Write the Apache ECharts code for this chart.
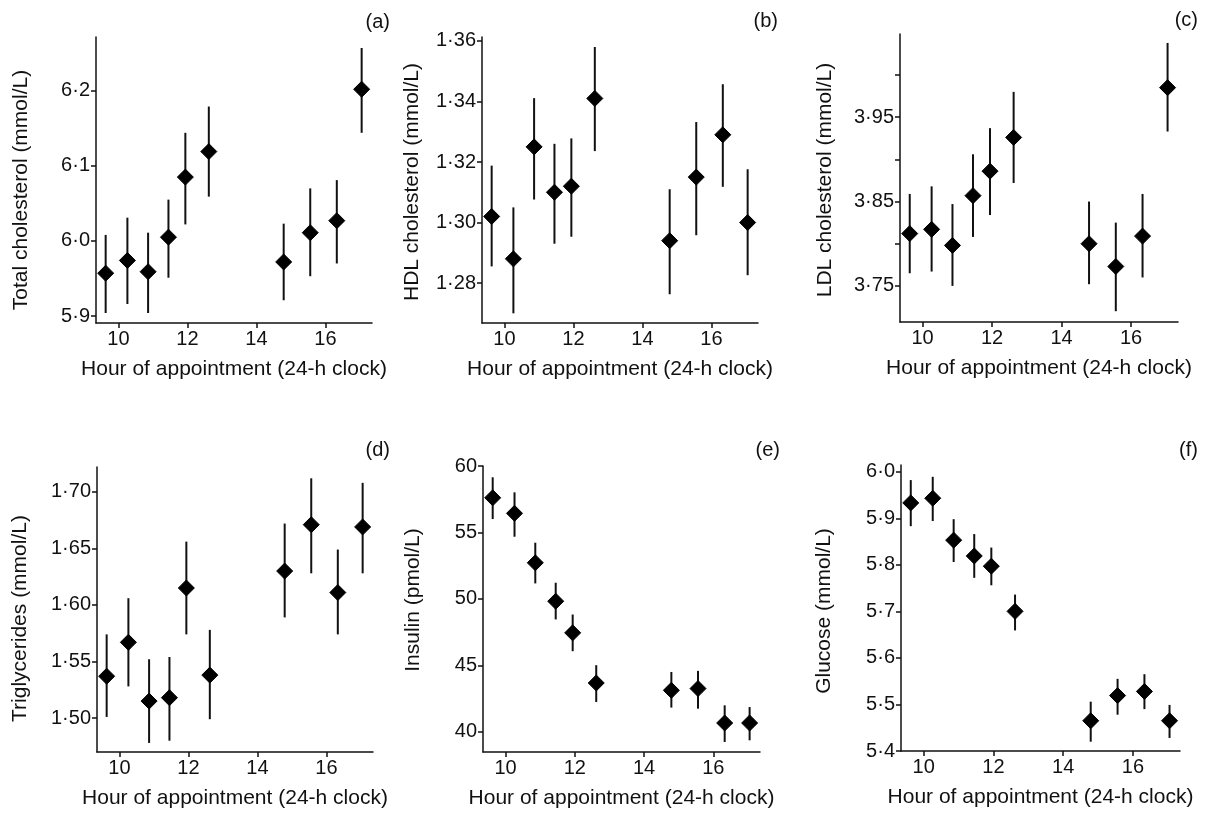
<!DOCTYPE html>
<html>
<head>
<meta charset="utf-8">
<script src="https://cdn.jsdelivr.net/npm/echarts@6/dist/echarts.min.js"></script>
<style>
  html, body { margin: 0; padding: 0; background: #fff; }
  #chart { width: 1209px; height: 818px; }
</style>
</head>
<body>
<div id="chart"></div>
<script>
// Hour of appointment (shared by all six panels)
const hours = [9.63, 10.26, 10.86, 11.45, 11.94, 12.62, 14.79, 15.56, 16.33, 17.05];
const hourTicks = [10, 12, 14, 16];

// (a) Total cholesterol, mmol/L
const totalMean = [5.957, 5.974, 5.959, 6.005, 6.085, 6.119, 5.972, 6.011, 6.027, 6.202];
const totalLow  = [5.904, 5.916, 5.904, 5.951, 6.022, 6.059, 5.921, 5.953, 5.970, 6.144];
const totalHigh = [6.008, 6.031, 6.011, 6.055, 6.144, 6.179, 6.023, 6.070, 6.081, 6.257];
const totalTicks = [5.9, 6.0, 6.1, 6.2];

// (b) HDL cholesterol, mmol/L
const hdlMean = [1.302, 1.288, 1.325, 1.310, 1.312, 1.341, 1.294, 1.315, 1.329, 1.300];
const hdlLow  = [1.2855, 1.270, 1.3076, 1.293, 1.2953, 1.3236, 1.2763, 1.2958, 1.3118, 1.2826];
const hdlHigh = [1.3188, 1.305, 1.3411, 1.326, 1.3278, 1.358, 1.311, 1.3332, 1.3457, 1.3176];
const hdlTicks = [1.28, 1.30, 1.32, 1.34, 1.36];

// (c) LDL cholesterol, mmol/L
const ldlMean = [3.812, 3.817, 3.798, 3.857, 3.886, 3.926, 3.800, 3.773, 3.809, 3.985];
const ldlLow  = [3.765, 3.767, 3.750, 3.808, 3.834, 3.872, 3.752, 3.720, 3.760, 3.933];
const ldlHigh = [3.859, 3.868, 3.847, 3.906, 3.937, 3.980, 3.850, 3.825, 3.859, 4.038];
const ldlTicks = [3.75, 3.80, 3.85, 3.90, 3.95, 4.00];
const ldlLabels = [3.75, 3.85, 3.95];

// (d) Triglycerides, mmol/L
const tgMean = [1.537, 1.567, 1.515, 1.518, 1.615, 1.538, 1.630, 1.671, 1.611, 1.669];
const tgLow  = [1.501, 1.528, 1.478, 1.480, 1.574, 1.499, 1.589, 1.628, 1.574, 1.628];
const tgHigh = [1.574, 1.606, 1.552, 1.554, 1.656, 1.578, 1.672, 1.712, 1.649, 1.708];
const tgTicks = [1.50, 1.55, 1.60, 1.65, 1.70];

// (e) Insulin, pmol/L
const insMean = [57.61, 56.44, 52.72, 49.83, 47.45, 43.68, 43.13, 43.26, 40.67, 40.67];
const insLow  = [56.01, 54.68, 51.17, 48.46, 46.07, 42.25, 41.83, 41.75, 39.24, 39.37];
const insHigh = [59.15, 58.02, 54.23, 51.22, 48.83, 45.02, 44.51, 44.59, 42.00, 41.87];
const insTicks = [40, 45, 50, 55, 60];

// (f) Glucose, mmol/L
const gluMean = [5.933, 5.943, 5.853, 5.819, 5.797, 5.700, 5.465, 5.519, 5.528, 5.465];
const gluLow  = [5.883, 5.894, 5.806, 5.772, 5.756, 5.659, 5.420, 5.478, 5.490, 5.428];
const gluHigh = [5.982, 5.989, 5.898, 5.866, 5.837, 5.736, 5.506, 5.555, 5.565, 5.499];
const gluTicks = [5.4, 5.5, 5.6, 5.7, 5.8, 5.9, 6.0];

const FONT = "'Liberation Sans', Arial, Helvetica, sans-serif";
const INK = '#111';

// Panel layout and axis settings
const panels = [
  { tag: '(a)', title: 'Total cholesterol (mmol/L)', mean: totalMean, low: totalLow, high: totalHigh,
    ymin: 5.8907, ymax: 6.2716, ticks: totalTicks, labels: totalTicks, dec: 1,
    grid: { left: 96, top: 37, width: 276, height: 286 }, nameGap: 64, shift: 10, tagPos: [390, 22] },
  { tag: '(b)', title: 'HDL cholesterol (mmol/L)', mean: hdlMean, low: hdlLow, high: hdlHigh,
    ymin: 1.2668, ymax: 1.3613, ticks: hdlTicks, labels: hdlTicks, dec: 2,
    grid: { left: 482, top: 37, width: 276, height: 286 }, nameGap: 59, shift: 2, tagPos: [778, 21] },
  { tag: '(c)', title: 'LDL cholesterol (mmol/L)', mean: ldlMean, low: ldlLow, high: ldlHigh,
    ymin: 3.7072, ymax: 4.0486, ticks: ldlTicks, labels: ldlLabels, dec: 2,
    grid: { left: 900, top: 34, width: 278, height: 288 }, nameGap: 64, shift: 2, tagPos: [1198, 20] },
  { tag: '(d)', title: 'Triglycerides (mmol/L)', mean: tgMean, low: tgLow, high: tgHigh,
    ymin: 1.470, ymax: 1.722, ticks: tgTicks, labels: tgTicks, dec: 2,
    grid: { left: 97, top: 467, width: 276, height: 285 }, nameGap: 66, shift: 9, tagPos: [390, 450] },
  { tag: '(e)', title: 'Insulin (pmol/L)', mean: insMean, low: insLow, high: insHigh,
    ymin: 38.49, ymax: 60, ticks: insTicks, labels: insTicks, dec: 0,
    grid: { left: 483, top: 466, width: 277, height: 286 }, nameGap: 59, shift: -9, tagPos: [780, 450] },
  { tag: '(f)', title: 'Glucose (mmol/L)', mean: gluMean, low: gluLow, high: gluHigh,
    ymin: 5.4, ymax: 6.0144, ticks: gluTicks, labels: gluTicks, dec: 1,
    grid: { left: 901, top: 465, width: 279, height: 286 }, nameGap: 66, shift: 3, tagPos: [1198, 450] }
];

const fmt = (v, dec) => v.toFixed(dec).replace('.', '\u00B7');

const grids = [], xAxes = [], yAxes = [], series = [], graphics = [];

panels.forEach((p, i) => {
  grids.push(p.grid);

  xAxes.push({
    type: 'value', gridIndex: i, min: 9.35, max: 17.35,
    splitLine: { show: false },
    axisLine: { show: true, onZero: false, lineStyle: { color: INK, width: 1.5 } },
    axisTick: { show: true, length: 5, customValues: hourTicks, lineStyle: { color: INK, width: 1.5 } },
    axisLabel: { customValues: hourTicks, color: INK, fontSize: 20, fontFamily: FONT, margin: 6 },
    name: 'Hour of appointment (24-h clock)', nameLocation: 'middle', nameGap: 36,
    nameTextStyle: { color: INK, fontSize: 21, fontFamily: FONT }
  });

  // shift > 0 moves the rotated title down the page
  const pad = p.shift >= 0 ? [0, 2 * p.shift, 0, 0] : [0, 0, 0, -2 * p.shift];
  yAxes.push({
    type: 'value', gridIndex: i, min: p.ymin, max: p.ymax,
    splitLine: { show: false },
    axisLine: { show: true, onZero: false, lineStyle: { color: INK, width: 1.5 } },
    axisTick: { show: true, length: 5, customValues: p.ticks, lineStyle: { color: INK, width: 1.5 } },
    axisLabel: { customValues: p.labels, color: INK, fontSize: 20, fontFamily: FONT, margin: 6,
                 formatter: v => fmt(v, p.dec) },
    name: p.title, nameLocation: 'middle', nameGap: p.nameGap,
    nameTextStyle: { color: INK, fontSize: 21, fontFamily: FONT, padding: pad }
  });

  // vertical error bars
  series.push({
    type: 'custom', xAxisIndex: i, yAxisIndex: i, silent: true,
    data: hours.map((h, k) => [h, p.low[k], p.high[k]]),
    encode: { x: 0, y: [1, 2] },
    renderItem: (params, api) => {
      const a = api.coord([api.value(0), api.value(1)]);
      const b = api.coord([api.value(0), api.value(2)]);
      return { type: 'line', shape: { x1: a[0], y1: a[1], x2: b[0], y2: b[1] },
               style: { stroke: INK, lineWidth: 2 } };
    },
    z: 2
  });

  // means as filled diamonds
  series.push({
    type: 'scatter', xAxisIndex: i, yAxisIndex: i, silent: true,
    data: hours.map((h, k) => [h, p.mean[k]]),
    symbol: 'diamond', symbolSize: 16,
    itemStyle: { color: '#000', opacity: 1, borderColor: '#000', borderWidth: 1, borderJoin: 'round' },
    z: 3
  });

  graphics.push({
    type: 'text', x: p.tagPos[0], y: p.tagPos[1],
    style: { text: p.tag, align: 'right', verticalAlign: 'middle', fill: INK,
             font: '20px ' + FONT }
  });
});

const chart = echarts.init(document.getElementById('chart'), null, { renderer: 'canvas' });
chart.setOption({
  animation: false,
  backgroundColor: '#fff',
  grid: grids, xAxis: xAxes, yAxis: yAxes, series: series, graphic: graphics
});
</script>
</body>
</html>
